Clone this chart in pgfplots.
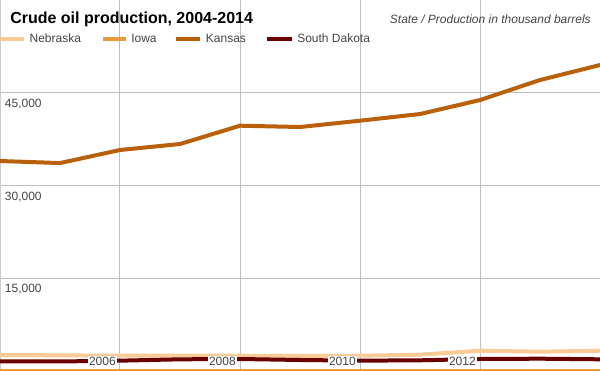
\documentclass[border=0pt]{standalone}
\usepackage{pgfplots}
\pgfplotsset{compat=1.18}
\usepackage{fontspec}
\setmainfont{Liberation Sans}
\definecolor{neb}{HTML}{FBCB97}
\definecolor{iowa}{HTML}{E99A3F}
\definecolor{kan}{HTML}{B9600A}
\definecolor{sd}{HTML}{6B0000}
\definecolor{grid}{HTML}{CCCCCC}
\definecolor{tick}{HTML}{444444}
\begin{document}
\begin{tikzpicture}
\begin{axis}[
  at={(0,0)}, anchor=south west,
  width=450pt, height=278.25pt, scale only axis,
  xmin=2004, xmax=2014, ymin=0, ymax=60000,
  xtick={2004,2006,...,2014}, ytick={0,15000,30000,45000,60000},
  xticklabels={}, yticklabels={},
  major tick length=0pt,
  grid=major, grid style={grid, line width=0.75pt},
  axis line style={grid, line width=0.75pt},
  every axis plot/.append style={line width=3pt, line join=round, line cap=round},
]
\addplot[neb] coordinates {(2004,2590)(2005,2530)(2006,2470)(2007,2500)(2008,2470)(2009,2430)(2010,2470)(2011,2640)(2012,3280)(2013,3120)(2014,3280)};
\addplot[iowa] coordinates {(2004,0)(2005,0)(2006,0)(2007,0)(2008,0)(2009,0)(2010,0)(2011,0)(2012,0)(2013,0)(2014,0)};
\addplot[kan] coordinates {(2004,33960)(2005,33630)(2006,35740)(2007,36710)(2008,39670)(2009,39460)(2010,40480)(2011,41560)(2012,43820)(2013,47060)(2014,49480)};
\addplot[sd] coordinates {(2004,1540)(2005,1540)(2006,1670)(2007,1890)(2008,1940)(2009,1780)(2010,1670)(2011,1730)(2012,1940)(2013,1990)(2014,1890)};
\foreach \v/\l in {15000/{15,000},30000/{30,000},45000/{45,000}}{
  \edef\tmp{\noexpand\node[anchor=north west, inner sep=0pt, xshift=3.5pt, yshift=-4.5pt, text=tick, font=\noexpand\fontsize{9pt}{10pt}\noexpand\selectfont] at (axis cs:2004,\v) {\l};}
  \tmp
}
\foreach \x in {2006,2008,2010,2012}{
  \edef\tmp{\noexpand\node[anchor=base east, fill=white, inner sep=1pt, xshift=-2pt, yshift=3.75pt, text=tick, font=\noexpand\fontsize{9pt}{10pt}\noexpand\selectfont] at (axis cs:\x,0) {\x};}
  \tmp
}
\end{axis}
\node[anchor=base west, inner sep=0pt, font=\bfseries\fontsize{12pt}{14pt}\selectfont] at (7.5pt,260.25pt) {Crude oil production, 2004-2014};
\node[anchor=base east, inner sep=0pt, text=tick, font=\itshape\fontsize{9pt}{10pt}\selectfont] at (443.25pt,260.25pt) {State / Production in thousand barrels};
\draw[neb, line width=3pt] (0pt,249pt) -- (18pt,249pt);
\node[anchor=base west, inner sep=0pt, text=tick, font=\fontsize{9pt}{10pt}\selectfont] at (22pt,246pt) {Nebraska};
\draw[iowa, line width=3pt] (77pt,249pt) -- (94.5pt,249pt);
\node[anchor=base west, inner sep=0pt, text=tick, font=\fontsize{9pt}{10pt}\selectfont] at (98.25pt,246pt) {Iowa};
\draw[kan, line width=3pt] (132pt,249pt) -- (150pt,249pt);
\node[anchor=base west, inner sep=0pt, text=tick, font=\fontsize{9pt}{10pt}\selectfont] at (154.25pt,246pt) {Kansas};
\draw[sd, line width=3pt] (200.25pt,249pt) -- (219pt,249pt);
\node[anchor=base west, inner sep=0pt, text=tick, font=\fontsize{9pt}{10pt}\selectfont] at (222.75pt,246pt) {South Dakota};
\pgfresetboundingbox
\path[use as bounding box] (0,0) rectangle (450pt,278.25pt);
\end{tikzpicture}
\end{document}
